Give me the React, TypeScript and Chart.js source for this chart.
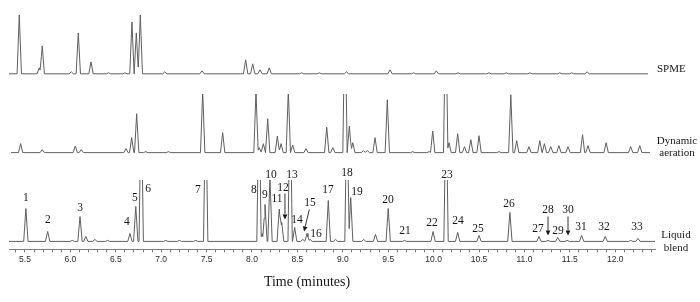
import React, { useEffect, useRef } from "react";
import { Chart, registerables } from "chart.js";

Chart.register(...registerables);

// ---------- data ----------
const seriesNames = ["SPME", "Dynamic aeration", "Liquid blend"];

// SPME trace: retention time (min) and peak height (arbitrary units)
const spmeTimes = [5.437, 5.657, 5.69, 6.01, 6.087, 6.227, 6.42, 6.6, 6.678, 6.726, 6.77, 7.04, 7.45, 7.93, 8.008, 8.088, 8.19, 8.547, 8.74, 9.04, 9.52, 9.78, 10.03, 10.27, 10.61, 10.8, 11.06, 11.39, 11.52, 11.69];
const spmeHeights = [59, 6, 28, 2, 41, 12, 1, 1, 52, 41, 59, 2, 3, 14, 10, 4, 6, 1, 1, 2, 4, 1, 3, 1, 1, 1, 1, 1, 1, 2];
const spmeRange = [5.324, 12.361];

// Dynamic aeration trace
const aerationTimes = [5.452, 5.69, 6.054, 6.12, 6.612, 6.675, 6.73, 6.83, 7.08, 7.457, 7.677, 8.044, 8.08, 8.125, 8.173, 8.279, 8.32, 8.4, 8.448, 8.595, 8.823, 8.89, 9.024, 9.072, 9.11, 9.226, 9.27, 9.355, 9.49, 9.77, 9.95, 9.99, 10.133, 10.17, 10.265, 10.34, 10.41, 10.5, 10.72, 10.85, 10.915, 11.05, 11.17, 11.22, 11.29, 11.38, 11.48, 11.64, 11.7, 11.9, 12.17, 12.27];
const aerationHeights = [9, 3, 6.5, 3, 4, 15, 39, 1, 1, 62, 20, 62, 5, 9, 34, 16.6, 9, 62, 7.6, 4, 25.6, 5, 150, 26.6, 10, 2, 2, 15, 53, 1, 1, 21.6, 150, 10, 19, 6, 13, 17, 1, 58, 12, 6, 12, 9, 6, 7, 6, 18, 7, 10, 6, 7];
const aerationRange = [5.346, 12.383];

// Liquid blend trace
const liquidTimes = [5.51, 5.75, 6.02, 6.106, 6.17, 6.27, 6.41, 6.656, 6.72, 6.78, 7.05, 7.2, 7.38, 7.49, 8.077, 8.11, 8.143, 8.198, 8.3, 8.327, 8.42, 8.47, 8.56, 8.606, 8.64, 8.84, 8.92, 9.046, 9.087, 9.23, 9.36, 9.5, 9.68, 9.994, 10.137, 10.265, 10.5, 10.84, 11.16, 11.26, 11.367, 11.47, 11.63, 11.89, 12.17, 12.25];
const liquidHeights = [33, 10, 1, 25, 5, 2, 1, 8, 35, 150, 1, 1, 1, 150, 150, 8, 37, 64, 32, 19, 150, 14, 2, 8, 2, 41, 2, 150, 44, 2, 7, 33, 1, 10, 150, 9, 6, 29, 5, 1, 4, 1, 6, 5, 1, 3];
const liquidRange = [5.324, 12.438];

// Peak numbers on the liquid blend trace (label anchor: time, level)
const peakLabels = ["1", "2", "3", "4", "5", "6", "7", "8", "9", "10", "11", "12", "13", "14", "15", "16", "17", "18", "19", "20", "21", "22", "23", "24", "25", "26", "27", "28", "29", "30", "31", "32", "33"];
const labelTimes = [5.511, 5.753, 6.106, 6.623, 6.711, 6.855, 7.405, 8.022, 8.143, 8.209, 8.275, 8.341, 8.44, 8.496, 8.639, 8.705, 8.837, 9.046, 9.156, 9.498, 9.685, 9.982, 10.148, 10.269, 10.489, 10.83, 11.15, 11.26, 11.37, 11.48, 11.623, 11.877, 12.24];
const labelLevels = [44, 21, 34, 19, 44, 53, 52, 52, 47, 67, 43, 54, 67, 21, 39, 7, 52, 69, 50, 42, 10, 18, 67, 20, 12, 38, 12, 32, 10, 32, 14, 14, 14];

// Arrows pointing at small peaks
const arrowLabels = ["12", "15", "28", "30"];
const arrowFromTimes = [8.363, 8.631, 11.26, 11.48];
const arrowFromLevels = [48, 32, 25, 25];
const arrowToTimes = [8.363, 8.573, 11.26, 11.48];
const arrowToLevels = [22, 10, 6, 6];

// x axis
const xMin = 5.324;
const xMax = 12.438;
const tickStep = 0.1;
const axisTitle = "Time (minutes)";

// ---------- layout constants ----------
const PEAK_HALF_WIDTH = 0.024;
const OFFSET_SPME = 168;
const OFFSET_AERATION = 89;
const OFFSET_LIQUID = 0;
const LINE_COLOR = "#5f5f5f";
const SERIF = '"Liberation Serif", "Times New Roman", serif';

function buildTrace(times: number[], heights: number[], range: number[], offset: number) {
  const xs = new Set<number>([range[0], range[1]]);
  times.forEach((t) => {
    xs.add(t - PEAK_HALF_WIDTH);
    xs.add(t);
    xs.add(t + PEAK_HALF_WIDTH);
  });
  const sorted = Array.from(xs)
    .filter((v) => v >= range[0] && v <= range[1])
    .sort((a, b) => a - b);
  return sorted.map((xv) => {
    let yv = 0;
    times.forEach((t, i) => {
      const d = Math.abs(xv - t);
      if (d < PEAK_HALF_WIDTH) yv += heights[i] * (1 - d / PEAK_HALF_WIDTH);
    });
    return { x: xv, y: yv + offset };
  });
}

function drawArrow(ctx: CanvasRenderingContext2D, x1: number, y1: number, x2: number, y2: number) {
  const ang = Math.atan2(y2 - y1, x2 - x1);
  const head = 5;
  const hw = 2.4;
  const bx = x2 - head * Math.cos(ang);
  const by = y2 - head * Math.sin(ang);
  ctx.beginPath();
  ctx.moveTo(x1, y1);
  ctx.lineTo(bx, by);
  ctx.stroke();
  ctx.beginPath();
  ctx.moveTo(x2, y2);
  ctx.lineTo(bx + hw * Math.sin(ang), by - hw * Math.cos(ang));
  ctx.lineTo(bx - hw * Math.sin(ang), by + hw * Math.cos(ang));
  ctx.closePath();
  ctx.fill();
}

const annotatePlugin = {
  id: "annotate",
  afterDatasetsDraw(chart: any) {
    const { ctx, chartArea } = chart;
    const xs = chart.scales.x;
    const ys = chart.scales.y;
    ctx.save();
    ctx.fillStyle = "#161616";
    ctx.strokeStyle = "#333";
    ctx.lineWidth = 1;
    ctx.textAlign = "center";
    ctx.textBaseline = "middle";
    ctx.font = `11.5px ${SERIF}`;
    peakLabels.forEach((s, i) => {
      ctx.fillText(s, xs.getPixelForValue(labelTimes[i]), ys.getPixelForValue(labelLevels[i]));
    });
    arrowLabels.forEach((_, i) => {
      drawArrow(
        ctx,
        xs.getPixelForValue(arrowFromTimes[i]),
        ys.getPixelForValue(arrowFromLevels[i]),
        xs.getPixelForValue(arrowToTimes[i]),
        ys.getPixelForValue(arrowToLevels[i])
      );
    });
    // series names on the right
    ctx.font = `11px ${SERIF}`;
    const r = chartArea.right;
    ctx.textAlign = "left";
    ctx.fillText(seriesNames[0], r + 2, ys.getPixelForValue(OFFSET_SPME + 5));
    ctx.textAlign = "center";
    const [d1, d2] = seriesNames[1].split(" ");
    ctx.fillText(d1, r + 22, ys.getPixelForValue(OFFSET_AERATION + 12));
    ctx.fillText(d2, r + 22, ys.getPixelForValue(OFFSET_AERATION));
    const [l1, l2] = seriesNames[2].split(" ");
    ctx.fillText(l1, r + 21, ys.getPixelForValue(OFFSET_LIQUID + 6));
    ctx.fillText(l2, r + 21, ys.getPixelForValue(OFFSET_LIQUID - 7));
    // axis title
    ctx.font = `14px ${SERIF}`;
    ctx.fillText(axisTitle, chartArea.left + 298, 282);
    ctx.restore();
  },
};

export default function App() {
  const ref = useRef<HTMLCanvasElement>(null);
  useEffect(() => {
    if (!ref.current) return;
    const lineDs = (label: string, data: any[], clipTop: number | false) => ({
      label,
      data,
      borderColor: LINE_COLOR,
      backgroundColor: LINE_COLOR,
      borderWidth: 1,
      pointRadius: 0,
      tension: 0,
      fill: false,
      clip: clipTop === false ? undefined : { left: 5, right: 5, top: -clipTop, bottom: 5 },
    });
    const chart = new Chart(ref.current, {
      type: "line",
      data: {
        datasets: [
          lineDs(seriesNames[0], buildTrace(spmeTimes, spmeHeights, spmeRange, OFFSET_SPME), false),
          lineDs(seriesNames[1], buildTrace(aerationTimes, aerationHeights, aerationRange, OFFSET_AERATION), 94),
          lineDs(seriesNames[2], buildTrace(liquidTimes, liquidHeights, liquidRange, OFFSET_LIQUID), 180),
        ],
      },
      options: {
        animation: false,
        responsive: false,
        parsing: false,
        normalized: true,
        layout: { padding: { left: 9, right: 45, top: 0, bottom: 35.4 } },
        plugins: { legend: { display: false }, tooltip: { enabled: false } },
        scales: {
          x: {
            type: "linear",
            min: xMin,
            max: xMax,
            border: { display: true, color: "#7a7a7a", width: 1 },
            grid: { display: true, drawOnChartArea: false, drawTicks: true, tickLength: 3, tickColor: "#7a7a7a" },
            ticks: {
              stepSize: tickStep,
              includeBounds: false,
              autoSkip: false,
              maxRotation: 0,
              padding: 2,
              color: "#2a2a2a",
              font: { family: '"Liberation Sans", Arial, sans-serif', size: 8.5 },
              callback: (value: any) => {
                const v = Math.round(Number(value) * 10) / 10;
                return Math.abs(v * 2 - Math.round(v * 2)) < 1e-6 ? v.toFixed(1) : "";
              },
            },
          },
          y: { type: "linear", display: false, min: -8, max: 242 },
        },
      },
      plugins: [annotatePlugin],
    } as any);
    return () => chart.destroy();
  }, []);
  return (
    <div style={{ position: "absolute", left: 0, top: 0, width: 700, height: 302, background: "#fff" }}>
      <canvas ref={ref} width={700} height={302} style={{ display: "block" }} />
    </div>
  );
}
